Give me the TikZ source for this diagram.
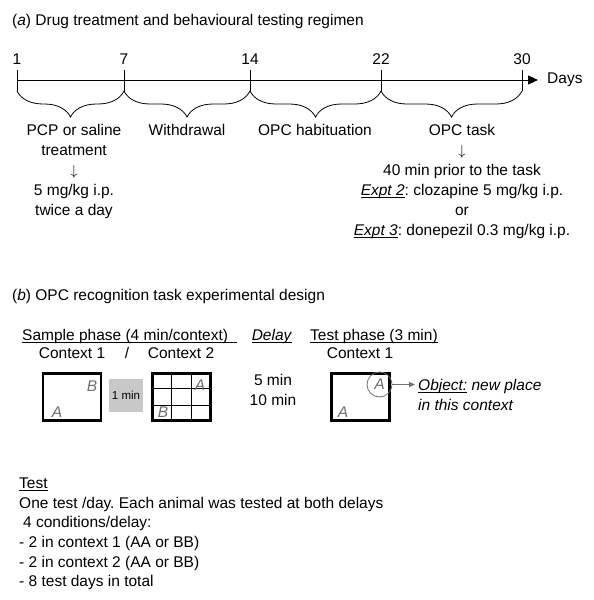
\documentclass[tikz,border=0pt]{standalone}
\usepackage{fontspec}
\setmainfont{Liberation Sans}
\usetikzlibrary{arrows.meta, positioning, decorations.pathreplacing, calc}

\definecolor{objgray}{HTML}{6E6E6E}
\definecolor{boxgray}{HTML}{C8C8C8}

% underline at a fixed depth below the baseline
\newcommand{\ulbase}[1]{\setbox0\hbox{#1}\rlap{\rule[-2.4pt]{\wd0}{0.7pt}}\box0\relax}

\frenchspacing

\begin{document}
\begin{tikzpicture}[
    x=1pt, y=-1pt,
    font=\fontsize{15.5}{20}\selectfont,
    lbl/.style={align=center, inner sep=0pt, anchor=north},
    txt/.style={inner sep=0pt, anchor=base west},
    brace/.style={decorate, decoration={brace, mirror, amplitude=26pt}, line width=0.8pt},
    arena/.style={rectangle, draw, line width=2.8pt, minimum width=58pt, minimum height=47pt, inner sep=0pt},
    obj/.style={text=objgray, font=\fontsize{15.5}{20}\selectfont\itshape, inner sep=0pt},
    garrow/.style={draw=objgray, line width=0.8pt, -{Triangle[length=6pt,width=5pt]}, shorten >=3pt}
]
    \useasboundingbox (0,0) rectangle (594,600);

    % (a) timeline
    \node[txt] (ttla) at (12,25.5) {(\textit{a}) Drug treatment and behavioural testing regimen};

    \coordinate (start) at (17,80);
    \coordinate (end) at (538,80);
    \draw[line width=0.8pt, -{Triangle[length=10pt,width=9pt]}] (start) -- (end);
    \node[inner sep=0pt, right=9pt of end] (days) {Days};

    \foreach \d/\x in {1/17, 7/124, 14/250, 22/381, 30/522} {
        \coordinate (t\d) at (\x,80);
        \draw[line width=0.8pt] (\x,70) -- (\x,91);
        \node[inner sep=0pt, above=15pt of t\d] (n\d) {\d};
    }

    \foreach \a/\b in {1/7, 7/14, 14/22, 22/30}
        \draw[brace] ($(t\a)+(0,11)$) -- ($(t\b)+(0,11)$);

    \node[lbl] (pcp) at (74,124) {PCP or saline\\treatment\\$\downarrow$\\5 mg/kg i.p.\\twice a day};
    \node[lbl] (withdraw) at (187,124) {Withdrawal};
    \node[lbl] (habit) at (315,124) {OPC habituation};
    \node[lbl] (task) at (462,124) {OPC task\\$\downarrow$\\40 min prior to the task\\
        \ulbase{\textit{Expt 2}}: clozapine 5 mg/kg i.p.\\or\\
        \ulbase{\textit{Expt 3}}: donepezil 0.3 mg/kg i.p.};

    % (b) recognition task
    \node[txt] (ttlb) at (12,300.5) {(\textit{b}) OPC recognition task experimental design};

    \node[txt] (sample) at (22,340) {\ulbase{Sample phase (4 min/context)\hspace{9pt}}};
    \node[inner sep=0pt, anchor=base] (delay) at (272,340) {\ulbase{\textit{Delay}}};
    \node[txt] (testph) at (310,340) {\ulbase{Test phase (3 min)}};

    \node[inner sep=0pt, anchor=base] (ctx1) at (72,358) {Context 1};
    \node[inner sep=0pt, anchor=base] (slash) at (127,358) {/};
    \node[inner sep=0pt, anchor=base] (ctx2) at (181,358) {Context 2};
    \node[inner sep=0pt, anchor=base] (ctx1t) at (360,358) {Context 1};

    \node[arena] (ctxA) at (72,397) {};
    \node[fill=boxgray, minimum width=34pt, minimum height=33pt, inner sep=0pt,
          font=\fontsize{11.5}{14}\selectfont] (gap) at (126,395.5) {1 min};
    \node[arena] (ctxB) at (181.3,397) {};
    \foreach \f in {0.333, 0.667} {
        \draw[line width=0.8pt] ($(ctxB.north west)!\f!(ctxB.north east)$) -- ($(ctxB.south west)!\f!(ctxB.south east)$);
        \draw[line width=0.8pt] ($(ctxB.north west)!\f!(ctxB.south west)$) -- ($(ctxB.north east)!\f!(ctxB.south east)$);
    }
    \node[arena] (ctxT) at (360.3,397) {};

    \node[obj] (a1) at (57,412) {A};
    \node[obj] (b1) at (92,386) {B};
    \node[obj] (a2) at (200,385) {A};
    \node[obj] (b2) at (163,412) {B};
    \node[obj] (a3) at (343,412) {A};
    \node[obj, circle, draw=objgray, line width=0.8pt, minimum size=25pt] (newobj) at (379.5,384.5) {A};

    \node[inner sep=0pt] (min5) at (273,380) {5 min};
    \node[inner sep=0pt] (min10) at (273,400) {10 min};

    \node[txt, font=\fontsize{15.5}{20}\selectfont\itshape] (objl1) at (418,390.5) {\ulbase{Object:} new place};
    \node[txt, font=\fontsize{15.5}{20}\selectfont\itshape] (objl2) at (418,410.5) {in this context};
    \draw[garrow] (newobj) -- (newobj -| objl1.west);

    % test notes
    \node[inner sep=0pt, anchor=north west, align=left, font=\fontsize{15.5}{19.7}\selectfont] (notes) at (19,477.5)
        {\ulbase{Test}\\One test /day. Each animal was tested at both delays\\
         \hspace*{4pt}4 conditions/delay:\\- 2 in context 1 (AA or BB)\\
         - 2 in context 2 (AA or BB)\\- 8 test days in total};
\end{tikzpicture}
\end{document}
